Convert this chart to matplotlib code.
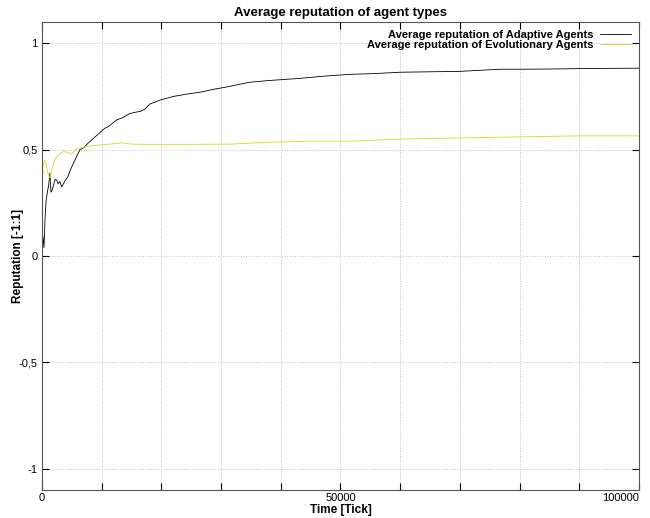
import matplotlib.pyplot as plt
import numpy as np

plt.rcParams['font.family'] = ['Liberation Sans', 'DejaVu Sans']

# time in ticks, reputation values
t_adapt = [0, 200, 335, 420, 500, 600, 700, 900, 1100, 1340, 1500, 1700, 2000, 2200, 2460,
           2700, 3000, 3300, 3600, 4000, 4300, 4690, 5000, 5500, 6000, 6370, 7000, 7700,
           8500, 9700, 10500, 11200, 12500, 13500, 14700, 15500, 16500, 17200, 18100,
           20000, 22000, 24000, 26500, 29000, 31000, 34800, 38000, 43200, 47000, 51600,
           56000, 60000, 65000, 70000, 76700, 80000, 85000, 90000, 95000, 100000]
rep_adapt = [0.12, 0.08, 0.04, 0.10, 0.17, 0.22, 0.26, 0.30, 0.33, 0.39, 0.30, 0.31, 0.34,
             0.36, 0.357, 0.34, 0.35, 0.325, 0.34, 0.36, 0.37, 0.40, 0.42, 0.45, 0.48, 0.50,
             0.51, 0.53, 0.55, 0.58, 0.60, 0.61, 0.64, 0.65, 0.67, 0.675, 0.68, 0.69, 0.715,
             0.735, 0.75, 0.76, 0.77, 0.785, 0.795, 0.817, 0.825, 0.835, 0.845, 0.854,
             0.858, 0.864, 0.866, 0.868, 0.878, 0.878, 0.879, 0.881, 0.882, 0.883]

t_evo = [0, 150, 300, 500, 700, 900, 1100, 1340, 1600, 2000, 2460, 3000, 3520, 4000,
         4970, 5500, 6370, 7500, 9160, 11000, 13600, 15000, 17000, 20000, 25000, 31500,
         38000, 45000, 52000, 60000, 70000, 80000, 90000, 100000]
rep_evo = [0.20, 0.42, 0.44, 0.45, 0.43, 0.40, 0.38, 0.366, 0.40, 0.44, 0.466, 0.48, 0.49,
           0.49, 0.48, 0.50, 0.507, 0.515, 0.521, 0.525, 0.532, 0.526, 0.525, 0.525,
           0.525, 0.526, 0.535, 0.54, 0.54, 0.55, 0.555, 0.56, 0.565, 0.565]

fig = plt.figure(figsize=(6.5, 5.18), dpi=100)
ax = fig.add_axes([0.0646, 0.054, 0.9184, 0.9035])

ax.plot(t_adapt, rep_adapt, color='black', lw=0.6, label='Average reputation of Adaptive Agents')
ax.plot(t_evo, rep_evo, color='#d8d820', lw=0.6, label='Average reputation of Evolutionary Agents')

ax.set_xlim(0, 100000)
ax.set_ylim(-1.1, 1.1)
ax.set_xticks([0, 50000, 100000])
ax.set_xticklabels(['0', '50000', '100000'])
ax.get_xticklabels()[-1].set_horizontalalignment('right')
ax.set_xticks(np.arange(0, 100001, 10000), minor=True)
ax.set_yticks([-1, -0.5, 0, 0.5, 1])
ax.set_yticklabels(['-1', '-0,5', '0', '0,5', '1'])
ax.tick_params(which='both', direction='in', top=True, right=True, labelsize=8, width=0.8)
ax.tick_params(axis='y', pad=3)
ax.tick_params(axis='x', pad=2)
ax.tick_params(which='both', length=5)
ax.grid(True, which='both', linestyle=':', color='#c0c0c0', lw=0.7)
for s in ax.spines.values():
    s.set_color('#555555')

ax.set_title('Average reputation of agent types', fontsize=9.5, fontweight='bold', pad=4)
ax.set_xlabel('Time [Tick]', fontsize=8.5, fontweight='bold', labelpad=1)
ax.set_ylabel('Reputation [-1:1]', fontsize=8.5, fontweight='bold')
ax.yaxis.set_label_coords(-0.03, 0.5)
ax.legend(loc='upper right', frameon=False, markerfirst=False,
          handlelength=2.8, borderaxespad=0.3, labelspacing=0.0, handletextpad=0.6,
          prop={'weight': 'bold', 'size': 8})

fig.savefig('out.png', dpi=100)
